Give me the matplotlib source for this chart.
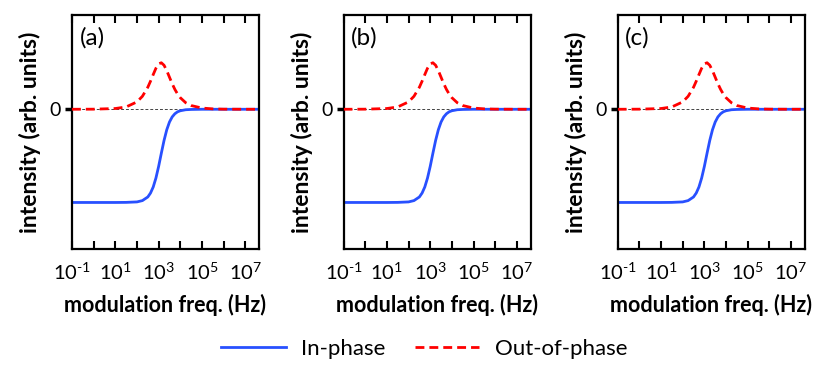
import matplotlib
matplotlib.use("Agg")
import matplotlib.pyplot as plt
from matplotlib.lines import Line2D
import numpy as np

plt.rcParams['font.family'] = ['Lato', 'DejaVu Sans']
plt.rcParams['mathtext.fontset'] = 'custom'
plt.rcParams['mathtext.rm'] = 'Lato'
plt.rcParams['mathtext.it'] = 'Lato:italic'

# log10 of modulation frequency (Hz)
freq_exp = [-1, 0, 1, 1.5, 2, 2.25, 2.5, 2.625, 2.75, 2.875, 3.0, 3.125, 3.25,
            3.375, 3.5, 3.625, 3.75, 3.875, 4.0, 4.25, 4.5, 5, 5.5, 6, 7, 8.0]
# in-phase signal (normalised)
in_phase = [-1.0, -1.0, -1.0, -0.999, -0.994, -0.98, -0.941, -0.899, -0.834, -0.738,
            -0.613, -0.471, -0.334, -0.22, -0.137, -0.082, -0.048, -0.027, -0.016,
            -0.005, -0.002, 0.0, 0.0, 0.0, 0.0, 0.0]
# out-of-phase signal (normalised)
out_phase = [0.0, 0.001, 0.008, 0.025, 0.079, 0.139, 0.236, 0.301, 0.372, 0.44,
             0.487, 0.499, 0.472, 0.414, 0.344, 0.274, 0.213, 0.163, 0.124,
             0.07, 0.04, 0.013, 0.004, 0.001, 0.0, 0.0]

panel_labels = ['(a)', '(b)', '(c)']
tick_exp = list(range(-1, 8))

freq = 10.0 ** np.array(freq_exp)

def exp_label(e):
    if e % 2 == 0:
        return ''
    s = str(e).replace('-', r'\text{-}')
    return r'$\mathregular{10^{%s}}$' % s

fig = plt.figure(figsize=(8.3, 3.69), dpi=100)
lefts = [0.0867, 0.4139, 0.7442]

for left, lab in zip(lefts, panel_labels):
    ax = fig.add_axes([left, 0.325, 0.2253, 0.634])
    ax.axhline(0, color='#444444', lw=0.7, ls=(0, (3, 2)), zorder=1)
    ax.plot(freq, in_phase, color='#2850ff', lw=2.0, zorder=2)
    ax.plot(freq, out_phase, color='#ff0000', lw=2.0, ls=(0, (3.2, 1.8)), zorder=3)
    ax.set_xscale('log')
    ax.set_xlim(10 ** -1, 10 ** 7.63)
    ax.set_ylim(-1.5, 1.01)

    ax.set_xticks([10.0 ** e for e in tick_exp])
    ax.set_xticklabels([exp_label(e) for e in tick_exp])
    ax.xaxis.set_minor_locator(matplotlib.ticker.NullLocator())
    ax.tick_params(axis='x', which='major', direction='in', top=True, length=6,
                   width=1.5, labelsize=14.5, pad=9)
    ax.set_yticks([0])
    ax.set_yticklabels(['0'])
    ax.tick_params(axis='y', direction='out', length=5, width=2.5, labelsize=14, pad=3)
    for s in ax.spines.values():
        s.set_linewidth(1.6)

    ax.set_xlabel('modulation freq. (Hz)', fontsize=15.5, fontweight='bold', labelpad=8)
    ax.set_ylabel('intensity (arb. units)', fontsize=16.5, fontweight='bold', labelpad=6)
    ax.text(0.04, 0.95, lab, transform=ax.transAxes, fontsize=17.5, va='top', ha='left')

handles = [Line2D([], [], color='#2850ff', lw=2.0),
           Line2D([], [], color='#ff0000', lw=2.0, ls=(0, (3.2, 1.8)))]
fig.legend(handles, ['In-phase', 'Out-of-phase'], loc='center', bbox_to_anchor=(0.511, 0.055),
           ncol=2, frameon=False, fontsize=16, handlelength=2.9, handletextpad=0.7,
           columnspacing=1.3)

fig.savefig('out.png', dpi=100)
